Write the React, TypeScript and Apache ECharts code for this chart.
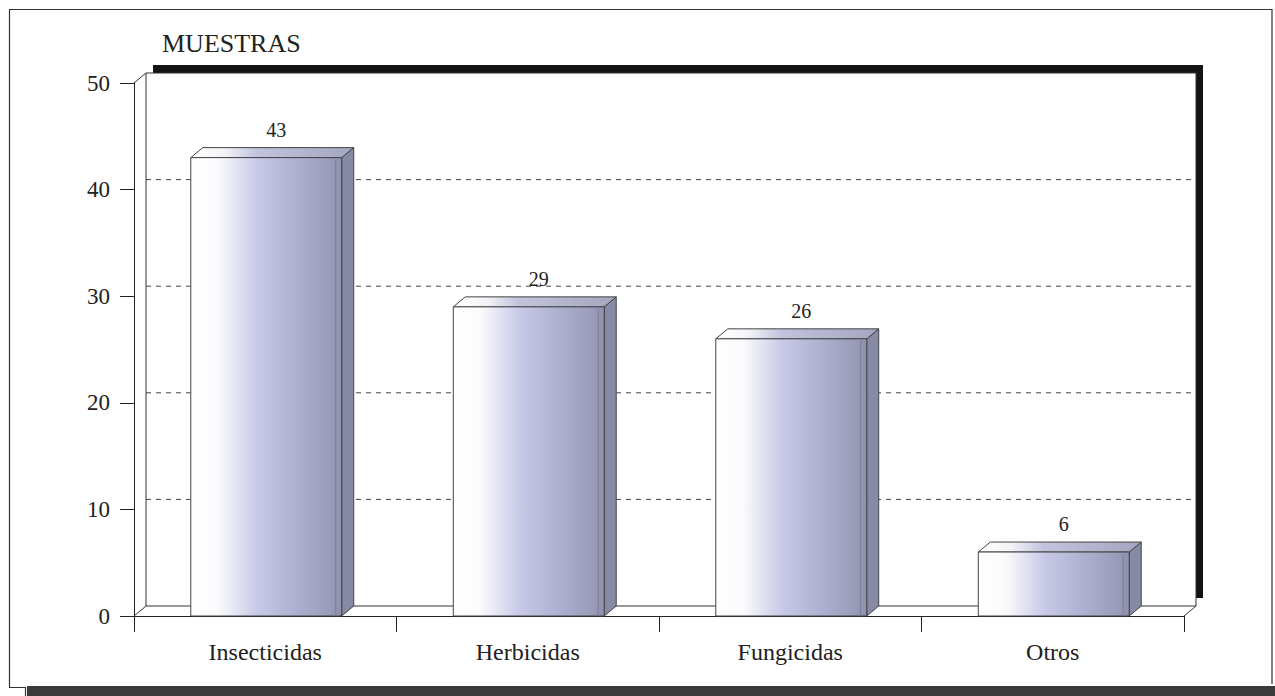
import React, { useEffect, useRef } from "react";
import * as echarts from "echarts";

const categories = ["Insecticidas", "Herbicidas", "Fungicidas", "Otros"];
const values = [43, 29, 26, 6];
const gridValues = [10, 20, 30, 40];
const yMin = 0;
const yMax = 50;
const yInterval = 10;
const yTitle = "MUESTRAS";

const DX = 12;
const DY = -10;
const FONT = "'Liberation Serif', 'Times New Roman', serif";

export default function App() {
  const ref = useRef<HTMLDivElement>(null);

  useEffect(() => {
    document.body.style.margin = "0";
    const chart = echarts.init(ref.current as HTMLDivElement, undefined, { renderer: "svg" });

    const frontGrad = () =>
      new echarts.graphic.LinearGradient(0, 0, 1, 0, [
        { offset: 0, color: "#ffffff" },
        { offset: 0.18, color: "#fbfbfd" },
        { offset: 0.45, color: "#c6c8e6" },
        { offset: 0.7, color: "#aeb0d0" },
        { offset: 0.92, color: "#9a9cba" },
        { offset: 1, color: "#8e90ac" },
      ]);
    const topGrad = () =>
      new echarts.graphic.LinearGradient(0, 0, 1, 0, [
        { offset: 0, color: "#ffffff" },
        { offset: 0.2, color: "#f4f4f8" },
        { offset: 0.4, color: "#c2c4de" },
        { offset: 1, color: "#a4a6c0" },
      ]);

    const option: any = {
      animation: false,
      grid: { left: 134, top: 83, width: 1050, height: 533, containLabel: false },
      xAxis: {
        type: "category",
        data: categories,
        axisLine: { show: true, lineStyle: { color: "#222", width: 1 } },
        axisTick: { show: true, length: 16, lineStyle: { color: "#222" } },
        axisLabel: { fontFamily: FONT, fontSize: 24, color: "#222", margin: 24 },
        splitLine: { show: false },
      },
      yAxis: {
        type: "value",
        min: yMin,
        max: yMax,
        interval: yInterval,
        axisLine: { show: true, lineStyle: { color: "#222", width: 1 } },
        axisTick: { show: true, length: 14, lineStyle: { color: "#222" } },
        axisLabel: { fontFamily: FONT, fontSize: 23, color: "#222", margin: 24 },
        splitLine: { show: false },
      },
      graphic: [
        {
          type: "polyline",
          shape: { points: [[1272, 684], [1272, 9.5], [9.5, 9.5], [9.5, 687.5], [25.5, 687.5], [25.5, 696]] },
          style: { stroke: "#333", lineWidth: 1.2, fill: null },
          z: 0,
        },
        {
          type: "rect",
          shape: { x: 27, y: 686, width: 1248, height: 10 },
          style: { fill: "#3a3a3a" },
          z: 0,
        },
        {
          type: "text",
          style: { text: yTitle, x: 162, y: 43, font: `26px ${FONT}`, fill: "#222", verticalAlign: "middle" },
          z: 5,
        },
      ],
      series: [
        {
          type: "custom",
          z: 1,
          silent: true,
          data: [[0, 0]],
          renderItem: (params: any) => {
            const cs = params.coordSys;
            const l = cs.x, t = cs.y, r = cs.x + cs.width, b = cs.y + cs.height;
            return {
              type: "group",
              children: [
                { type: "rect", shape: { x: l + DX + 7, y: t + DY - 8, width: cs.width, height: cs.height }, style: { fill: "#141414" } },
                { type: "rect", shape: { x: l + DX, y: t + DY, width: cs.width, height: cs.height }, style: { fill: "#ffffff", stroke: "#333", lineWidth: 1 } },
                { type: "line", shape: { x1: l, y1: t, x2: l + DX, y2: t + DY }, style: { stroke: "#333", lineWidth: 1 } },
                { type: "line", shape: { x1: l, y1: b, x2: l + DX, y2: b + DY }, style: { stroke: "#333", lineWidth: 1 } },
                { type: "line", shape: { x1: r, y1: b, x2: r + DX, y2: b + DY }, style: { stroke: "#333", lineWidth: 1 } },
              ],
            };
          },
        },
        {
          type: "custom",
          z: 2,
          silent: true,
          data: gridValues.map((v) => [0, v]),
          renderItem: (params: any, api: any) => {
            const cs = params.coordSys;
            const y = api.coord([0, api.value(1)])[1] + DY;
            return {
              type: "line",
              shape: { x1: cs.x + DX, y1: y, x2: cs.x + cs.width + DX - 2, y2: y },
              style: { stroke: "#444", lineWidth: 1, lineDash: [5, 5] },
            };
          },
        },
        {
          type: "custom",
          z: 3,
          silent: true,
          data: categories.map((c, i) => [i, values[i]]),
          renderItem: (params: any, api: any) => {
            const idx = api.value(0);
            const val = api.value(1);
            const top = api.coord([idx, val]);
            const base = api.coord([idx, 0]);
            const bw = api.size([1, 0])[0] * 0.575;
            const x0 = top[0] - bw / 2 + 1;
            const x1 = x0 + bw;
            const yT = top[1];
            const yB = base[1];
            return {
              type: "group",
              children: [
                {
                  type: "polygon",
                  shape: { points: [[x1, yT], [x1 + DX, yT + DY], [x1 + DX, yB + DY], [x1, yB]] },
                  style: { fill: "#868aa4", stroke: "#444", lineWidth: 1 },
                },
                {
                  type: "polygon",
                  shape: { points: [[x0, yT], [x0 + DX, yT + DY], [x1 + DX, yT + DY], [x1, yT]] },
                  style: { fill: topGrad(), stroke: "#444", lineWidth: 1 },
                },
                {
                  type: "rect",
                  shape: { x: x0, y: yT, width: bw, height: yB - yT },
                  style: { fill: frontGrad(), stroke: "#444", lineWidth: 1 },
                },
                {
                  type: "line",
                  shape: { x1: x1 - 6, y1: yT + 2, x2: x1 - 6, y2: yB },
                  style: { stroke: "#7c7e98", lineWidth: 1 },
                },
                {
                  type: "text",
                  style: {
                    text: String(val),
                    x: (x0 + x1) / 2 + 10,
                    y: yT - 28,
                    align: "center",
                    verticalAlign: "middle",
                    font: `20px ${FONT}`,
                    fill: "#222",
                  },
                },
              ],
            };
          },
        },
      ],
    };

    chart.setOption(option);
    return () => chart.dispose();
  }, []);

  return <div ref={ref} style={{ width: 1275, height: 696 }} />;
}
